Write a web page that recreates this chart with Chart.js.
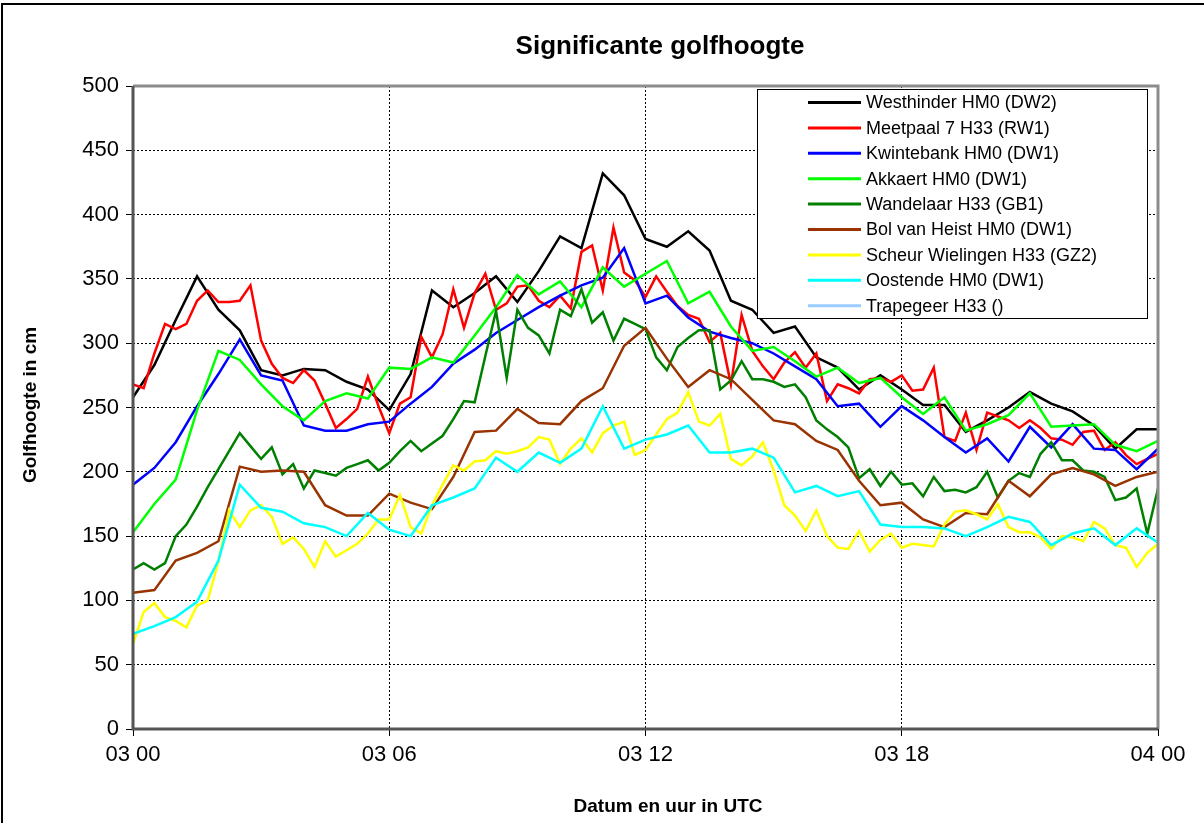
<!DOCTYPE html>
<html>
<head>
<meta charset="utf-8">
<script src="https://cdn.jsdelivr.net/npm/chart.js@4.4.0/dist/chart.umd.min.js"></script>
<style>
    html, body { margin: 0; padding: 0; background: #fff; }
    #wrap { width: 1204px; height: 823px; position: relative; }
</style>
</head>
<body>
<div id="wrap"><canvas id="golfChart"></canvas></div>
<script>
// Significante golfhoogte - 03 00 tot 04 00 UTC

// ====================================
// Data
// ====================================

const tickLabels = ['03 00', '03 06', '03 12', '03 18', '04 00'];

const stationNames = [
    'Westhinder HM0 (DW2)',
    'Meetpaal 7 H33 (RW1)',
    'Kwintebank HM0 (DW1)',
    'Akkaert HM0 (DW1)',
    'Wandelaar H33 (GB1)',
    'Bol van Heist HM0 (DW1)',
    'Scheur Wielingen H33 (GZ2)',
    'Oostende HM0 (DW1)',
    'Trapegeer H33 ()'
];

const stationColors = ['#000000', '#ff0000', '#0000ff', '#00ff00', '#008000',
    '#993300', '#ffff00', '#00ffff', '#99ccff'];

// HM0 reeksen: elk half uur (cm)
const westhinder = [258, 283, 318, 352, 326, 310, 279, 275, 280, 279, 270, 264, 248,
    276, 341, 328, 339, 352, 332, 356, 383, 374, 432, 415, 381,
    375, 387, 372, 333, 326, 308, 313, 289, 281, 264, 275, 264,
    252, 252, 231, 240, 250, 262, 253, 247, 236, 218, 233, 233];

const kwintebank = [190, 203, 223, 251, 276, 303, 275, 271, 236, 232, 232, 237, 239,
    253, 266, 284, 295, 308, 318, 328, 337, 345, 351, 374, 331,
    337, 320, 309, 304, 300, 292, 282, 272, 251, 253, 235, 251,
    240, 227, 215, 226, 208, 235, 219, 237, 218, 217, 202, 218];

const akkaert = [153, 175, 194, 248, 294, 287, 268, 251, 240, 255, 261, 257, 281,
    280, 289, 285, 306, 328, 353, 338, 348, 328, 359, 344, 354,
    364, 331, 340, 313, 294, 297, 286, 274, 281, 269, 273, 258,
    245, 258, 232, 237, 244, 261, 235, 236, 237, 221, 216, 224];

const bolVanHeist = [106, 108, 131, 137, 146, 204, 200, 201, 200, 174, 166, 166, 183,
    176, 171, 196, 231, 232, 249, 238, 237, 255, 265, 298, 312,
    288, 266, 279, 272, 256, 240, 237, 224, 217, 193, 174, 176,
    163, 157, 168, 167, 193, 181, 198, 203, 198, 189, 196, 200];

const oostende = [74, 80, 87, 99, 131, 190, 172, 169, 160, 157, 150, 168, 155,
    150, 174, 180, 187, 211, 200, 215, 207, 218, 251, 218, 225,
    229, 236, 215, 215, 218, 211, 184, 189, 181, 185, 159, 157,
    157, 156, 150, 157, 165, 161, 143, 152, 156, 143, 156, 145];

// H33 reeksen: elk kwartier (cm)
const meetpaal7 = [268, 265, 292, 315, 311, 315, 333, 341, 332, 332, 333, 345, 302,
    284, 273, 269, 279, 271, 253, 234, 241, 249, 274, 251, 230,
    253, 258, 305, 289, 307, 342, 312, 339, 354, 326, 331, 344,
    345, 333, 328, 337, 327, 371, 376, 341, 390, 355, 349, 336,
    352, 340, 329, 322, 319, 301, 308, 268, 322, 294, 282, 272,
    285, 293, 281, 292, 255, 268, 265, 261, 272, 273, 270, 275,
    263, 264, 281, 227, 224, 246, 217, 246, 243, 240, 234, 240,
    234, 226, 225, 221, 231, 232, 217, 223, 213, 206, 210, 214];

const wandelaar = [124, 129, 124, 129, 150, 159, 173, 188, 202, 216, 230, 220, 210,
    219, 198, 206, 187, 201, 199, 197, 203, 206, 209, 201, 207,
    216, 224, 216, 222, 228, 241, 255, 254, 290, 325, 273, 326,
    312, 306, 292, 326, 321, 342, 316, 324, 302, 319, 315, 311,
    289, 279, 297, 304, 310, 310, 264, 271, 286, 272, 272, 270,
    266, 268, 258, 240, 233, 227, 219, 195, 202, 189, 200, 190,
    191, 181, 196, 185, 186, 184, 188, 200, 180, 193, 199, 196,
    214, 223, 209, 209, 201, 200, 196, 178, 180, 187, 152, 187];

const scheurWielingen = [66, 91, 98, 87, 84, 79, 96, 100, 130, 170, 157, 170, 174,
    165, 144, 149, 140, 126, 146, 134, 139, 144, 152, 163, 163,
    182, 157, 152, 174, 190, 205, 201, 208, 209, 216, 214, 216,
    219, 227, 225, 206, 218, 226, 215, 230, 236, 239, 213, 217,
    229, 241, 246, 262, 239, 236, 245, 210, 205, 212, 223, 201,
    174, 166, 154, 170, 150, 141, 140, 154, 138, 147, 152, 141,
    144, 143, 142, 159, 169, 170, 167, 163, 175, 157, 153, 153,
    149, 140, 150, 149, 146, 161, 156, 143, 141, 126, 137, 144];

const trapegeer = [];

// reeks -> punten op de uren-as (interval in uren)
function toPoints(values, stepHours) {
    return values.map((v, i) => ({ x: i * stepHours, y: v }));
}

const seriesValues = [
    toPoints(westhinder, 0.5),
    toPoints(meetpaal7, 0.25),
    toPoints(kwintebank, 0.5),
    toPoints(akkaert, 0.5),
    toPoints(wandelaar, 0.25),
    toPoints(bolVanHeist, 0.5),
    toPoints(scheurWielingen, 0.25),
    toPoints(oostende, 0.5),
    toPoints(trapegeer, 0.5)
];

// ====================================
// Layout
// ====================================

const FONT = "'Liberation Sans', Arial, sans-serif";
const AREA = { left: 133, top: 86, right: 1158, bottom: 729 };

// Titels, kader en legende zoals in het Excel-origineel
const decorPlugin = {
    id: 'decor',
    afterDatasetsDraw(chart) {
        const ctx = chart.ctx;
        const ca = chart.chartArea;
        ctx.save();

        // kader rond plotgebied
        ctx.lineWidth = 3;
        ctx.strokeStyle = '#8c8c8c';
        ctx.beginPath();
        ctx.moveTo(ca.left, ca.top);
        ctx.lineTo(ca.right, ca.top);
        ctx.lineTo(ca.right, ca.bottom);
        ctx.stroke();
        ctx.strokeStyle = '#555555';
        ctx.beginPath();
        ctx.moveTo(ca.left, ca.top);
        ctx.lineTo(ca.left, ca.bottom);
        ctx.lineTo(ca.right, ca.bottom);
        ctx.stroke();

        // legende
        const lx = 757, ly = 89, lw = 390, lh = 229;
        ctx.fillStyle = '#ffffff';
        ctx.fillRect(lx, ly, lw, lh);
        ctx.lineWidth = 1;
        ctx.strokeStyle = '#000000';
        ctx.strokeRect(lx + 0.5, ly + 0.5, lw, lh);
        ctx.font = '18px ' + FONT;
        ctx.textBaseline = 'middle';
        ctx.textAlign = 'left';
        chart.data.datasets.forEach((ds, i) => {
            const y = 102.5 + i * 25.4;
            ctx.strokeStyle = ds.borderColor;
            ctx.lineWidth = 3;
            ctx.beginPath();
            ctx.moveTo(808, y);
            ctx.lineTo(861, y);
            ctx.stroke();
            ctx.fillStyle = '#000000';
            ctx.fillText(ds.label, 866, y + 1);
        });
        ctx.restore();
    },
    afterDraw(chart) {
        const ctx = chart.ctx;
        ctx.save();
        // buitenkader
        ctx.strokeStyle = '#000000';
        ctx.lineWidth = 2;
        ctx.beginPath();
        ctx.moveTo(2, 823);
        ctx.lineTo(2, 4);
        ctx.lineTo(1204, 4);
        ctx.stroke();

        ctx.fillStyle = '#000000';
        ctx.textAlign = 'center';
        ctx.textBaseline = 'middle';
        ctx.font = 'bold 26px ' + FONT;
        ctx.fillText('Significante golfhoogte', 660, 47);
        ctx.font = 'bold 19px ' + FONT;
        ctx.fillText('Datum en uur in UTC', 668, 807);
        ctx.translate(31, 405);
        ctx.rotate(-Math.PI / 2);
        ctx.fillText('Golfhoogte in cm', 0, 0);
        ctx.restore();
    }
};

// ====================================
// Grafiek
// ====================================

const ctx = document.getElementById('golfChart');

new Chart(ctx, {
    type: 'line',
    data: {
        datasets: stationNames.map((name, i) => ({
            label: name,
            data: seriesValues[i],
            borderColor: stationColors[i],
            backgroundColor: stationColors[i],
            borderWidth: 2.5,
            pointRadius: 0,
            tension: 0,
            fill: false,
            order: stationNames.length - i
        }))
    },
    options: {
        responsive: true,
        maintainAspectRatio: false,
        animation: false,
        layout: {
            padding: { left: 0, top: AREA.top, right: 1204 - AREA.right, bottom: 0 }
        },
        plugins: {
            legend: { display: false },
            title: { display: false },
            tooltip: { enabled: false }
        },
        scales: {
            x: {
                type: 'linear',
                min: 0,
                max: 24,
                afterFit: (scale) => { scale.height = 823 - AREA.bottom; },
                afterBuildTicks: (scale) => {
                    scale.ticks = tickLabels.map((t, i) => ({ value: i * 6 }));
                },
                ticks: {
                    color: '#000',
                    padding: 6,
                    maxRotation: 0,
                    autoSkip: false,
                    font: { family: FONT, size: 22 },
                    callback: (value) => tickLabels[value / 6]
                },
                grid: {
                    color: '#000',
                    lineWidth: 1,
                    tickLength: 7,
                    tickColor: '#000'
                },
                border: { display: false, dash: [2, 2] }
            },
            y: {
                min: 0,
                max: 500,
                afterFit: (scale) => { scale.width = AREA.left; },
                ticks: {
                    stepSize: 50,
                    color: '#000',
                    padding: 7,
                    font: { family: FONT, size: 22 }
                },
                grid: {
                    color: '#000',
                    lineWidth: 1,
                    tickLength: 7,
                    tickColor: '#000'
                },
                border: { display: false, dash: [2, 2] }
            }
        }
    },
    plugins: [decorPlugin]
});
</script>
</body>
</html>
